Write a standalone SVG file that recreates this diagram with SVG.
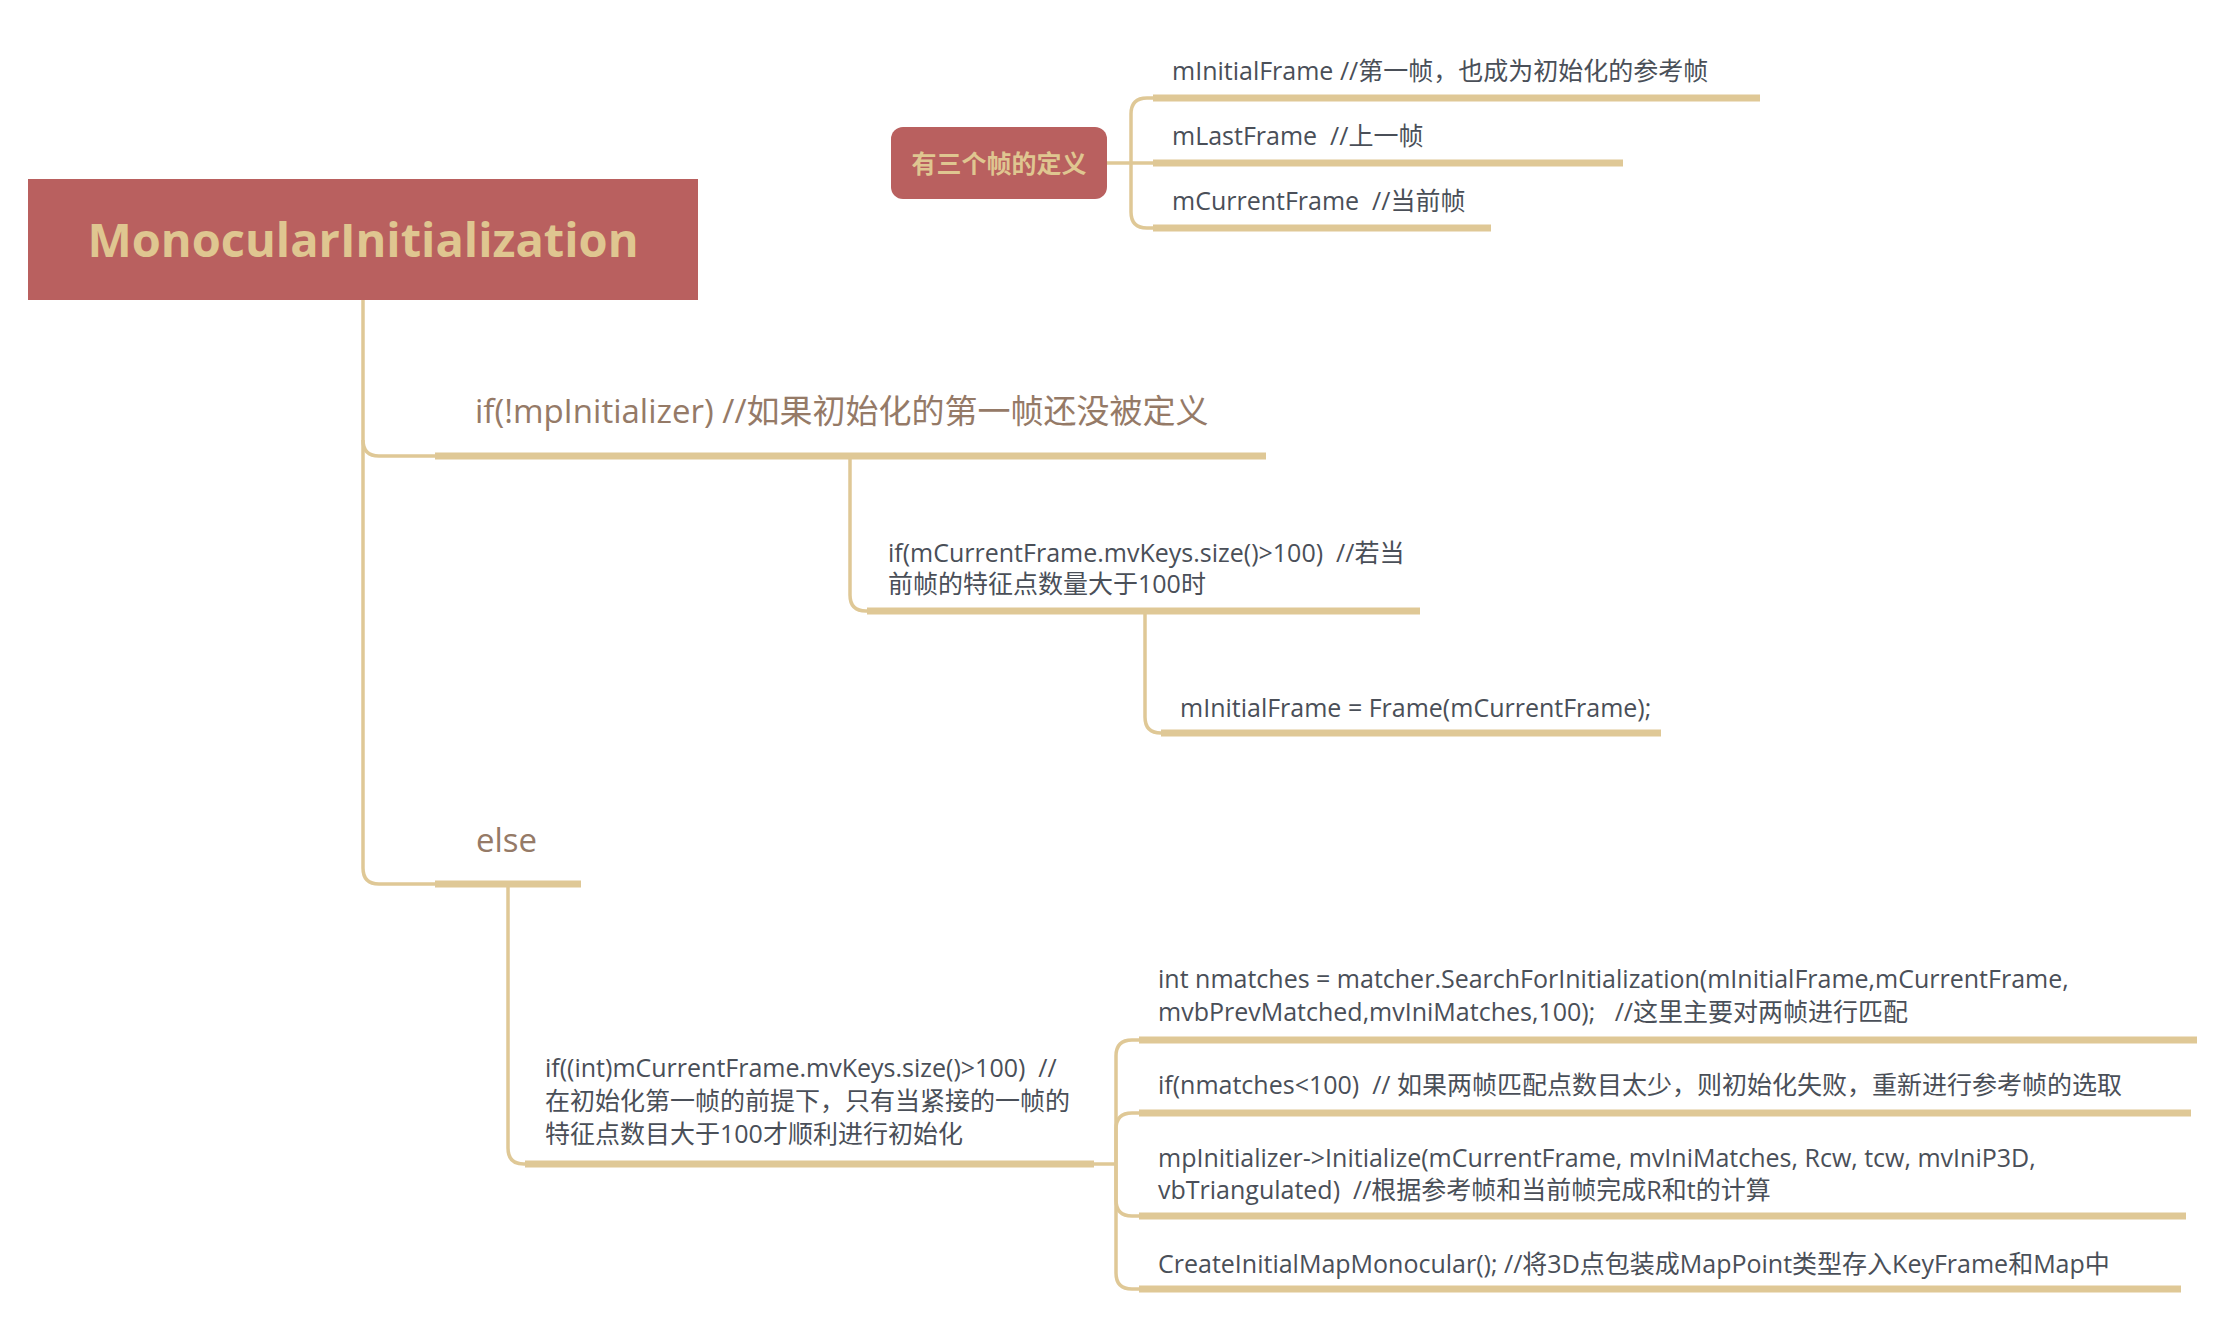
<svg xmlns="http://www.w3.org/2000/svg" width="2214" height="1338" viewBox="0 0 2214 1338">
<style>
.bg{fill:#ffffff}
.root{fill:#B9605F}
.roott{font-family:"Open Sans","Noto Sans CJK SC",sans-serif;font-weight:700;font-size:47px;fill:#DFC690}
.nodet{font-family:"Open Sans","Noto Sans CJK SC",sans-serif;font-weight:700;font-size:25px;fill:#DFC690}
.br{font-family:"Open Sans","Noto Sans CJK SC",sans-serif;font-size:33px;fill:#957A67;white-space:pre}
.t{font-family:"Open Sans","Noto Sans CJK SC",sans-serif;font-size:25px;fill:#4A4F58;white-space:pre}
.bar{stroke:#DFC896;stroke-width:7;fill:none}
.ln{stroke:#DFC896;stroke-width:3.5;fill:none}
</style>
<rect class="bg" x="0" y="0" width="2214" height="1338"/>
<g id="connectors">
  <path class="ln" d="M363,300 V440 Q363,456 379,456 H437"/>
  <path class="ln" d="M363,440 V868 Q363,884 379,884 H437"/>
  <path class="ln" d="M850,459 V595 Q850,611 866,611 H869"/>
  <path class="ln" d="M1145,614 V717 Q1145,733 1161,733 H1163"/>
  <path class="ln" d="M508,887 V1148 Q508,1164 524,1164 H527"/>
  <path class="ln" d="M1094,1164 H1116"/>
  <path class="ln" d="M1116,1164 V1056 Q1116,1040 1132,1040 H1141"/>
  <path class="ln" d="M1116,1164 V1129 Q1116,1113 1132,1113 H1141"/>
  <path class="ln" d="M1116,1164 V1200 Q1116,1216 1132,1216 H1141"/>
  <path class="ln" d="M1116,1164 V1273 Q1116,1289 1132,1289 H1141"/>
  <path class="ln" d="M1107,163 H1155"/>
  <path class="ln" d="M1131,163 V114 Q1131,98 1147,98 H1155"/>
  <path class="ln" d="M1131,163 V212 Q1131,228 1147,228 H1155"/>
</g>
<g id="root">
  <rect class="root" x="28" y="179" width="670" height="121"/>
  <text class="roott" x="363" y="257" text-anchor="middle">MonocularInitialization</text>
</g>
<g id="frames-def">
  <rect class="root" x="891" y="127" width="216" height="72" rx="12"/>
  <text class="nodet" x="999" y="173" text-anchor="middle">有三个帧的定义</text>
</g>
<g id="initial-frame">
  <text class="t" x="1172" y="80">mInitialFrame //第一帧，也成为初始化的参考帧</text>
  <line class="bar" x1="1153" y1="98" x2="1760" y2="98"/>
</g>
<g id="last-frame">
  <text class="t" x="1172" y="145">mLastFrame  //上一帧</text>
  <line class="bar" x1="1153" y1="163" x2="1623" y2="163"/>
</g>
<g id="current-frame">
  <text class="t" x="1172" y="210">mCurrentFrame  //当前帧</text>
  <line class="bar" x1="1153" y1="228" x2="1491" y2="228"/>
</g>
<g id="branch-if">
  <text class="br" x="475" y="423">if(!mpInitializer) //如果初始化的第一帧还没被定义</text>
  <line class="bar" x1="435" y1="456" x2="1266" y2="456"/>
</g>
<g id="if-size">
  <text class="t" x="888" y="562">if(mCurrentFrame.mvKeys.size()&gt;100)  //若当</text>
  <text class="t" x="888" y="593">前帧的特征点数量大于100时</text>
  <line class="bar" x1="867" y1="611" x2="1420" y2="611"/>
</g>
<g id="init-frame-assign">
  <text class="t" x="1180" y="717">mInitialFrame = Frame(mCurrentFrame);</text>
  <line class="bar" x1="1161" y1="733" x2="1661" y2="733"/>
</g>
<g id="branch-else">
  <text class="br" x="476" y="852">else</text>
  <line class="bar" x1="435" y1="884" x2="581" y2="884"/>
</g>
<g id="else-if-size">
  <text class="t" x="545" y="1077">if((int)mCurrentFrame.mvKeys.size()&gt;100)  //</text>
  <text class="t" x="545" y="1110">在初始化第一帧的前提下，只有当紧接的一帧的</text>
  <text class="t" x="545" y="1143">特征点数目大于100才顺利进行初始化</text>
  <line class="bar" x1="525" y1="1164" x2="1094" y2="1164"/>
</g>
<g id="search-match">
  <text class="t" x="1158" y="988">int nmatches = matcher.SearchForInitialization(mInitialFrame,mCurrentFrame,</text>
  <text class="t" x="1158" y="1021">mvbPrevMatched,mvIniMatches,100);   //这里主要对两帧进行匹配</text>
  <line class="bar" x1="1139" y1="1040" x2="2197" y2="1040"/>
</g>
<g id="check-matches">
  <text class="t" x="1158" y="1094">if(nmatches&lt;100)  // 如果两帧匹配点数目太少，则初始化失败，重新进行参考帧的选取</text>
  <line class="bar" x1="1139" y1="1113" x2="2191" y2="1113"/>
</g>
<g id="initialize">
  <text class="t" x="1158" y="1167">mpInitializer-&gt;Initialize(mCurrentFrame, mvIniMatches, Rcw, tcw, mvIniP3D,</text>
  <text class="t" x="1158" y="1199">vbTriangulated)  //根据参考帧和当前帧完成R和t的计算</text>
  <line class="bar" x1="1139" y1="1216" x2="2186" y2="1216"/>
</g>
<g id="create-map">
  <text class="t" x="1158" y="1273">CreateInitialMapMonocular(); //将3D点包装成MapPoint类型存入KeyFrame和Map中</text>
  <line class="bar" x1="1139" y1="1289" x2="2181" y2="1289"/>
</g>
</svg>
